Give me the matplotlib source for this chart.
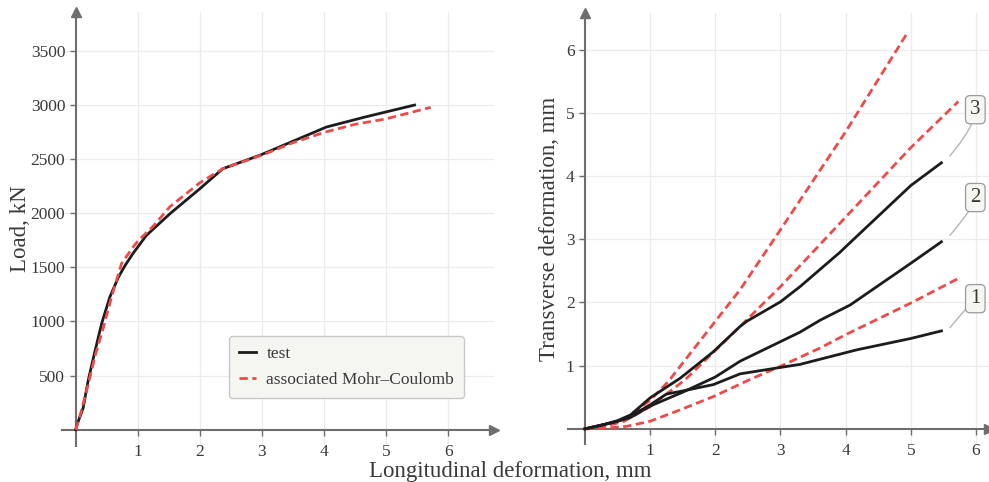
import matplotlib
matplotlib.use("Agg")
import matplotlib.pyplot as plt

plt.rcParams['font.family'] = ['Liberation Serif', 'DejaVu Serif']

# ---------------- data ----------------
# Left: load vs longitudinal deformation
test_x = [0, 0.03, 0.12, 0.2, 0.3, 0.42, 0.55, 0.69, 0.8, 0.92, 1.14, 1.52, 2.0, 2.37, 2.97, 3.23, 4.04, 4.68, 5.46]
test_y = [0, 60, 200, 450, 700, 983, 1225, 1410, 1520, 1625, 1795, 1995, 2225, 2410, 2535, 2598, 2795, 2890, 2998]
mc_x = [0, 0.08, 0.18, 0.31, 0.45, 0.58, 0.74, 0.93, 1.0, 1.25, 1.52, 2.0, 2.37, 3.0, 3.5, 4.0, 4.5, 5.0, 5.72]
mc_y = [0, 150, 369, 676, 952, 1229, 1536, 1690, 1740, 1880, 2060, 2280, 2410, 2535, 2650, 2745, 2820, 2870, 2977]

# Right: transverse deformation vs longitudinal deformation
t1_x = [0, 0.3, 0.5, 0.7, 1.0, 1.25, 1.5, 1.97, 2.38, 3.05, 3.3, 4.17, 5.0, 5.47]
t1_y = [0, 0.07, 0.12, 0.2, 0.38, 0.55, 0.6, 0.7, 0.87, 0.98, 1.02, 1.25, 1.43, 1.55]
t2_x = [0, 0.3, 0.5, 0.7, 1.0, 1.5, 2.0, 2.38, 3.0, 3.3, 3.61, 4.07, 5.0, 5.47]
t2_y = [0, 0.07, 0.12, 0.18, 0.36, 0.58, 0.82, 1.07, 1.38, 1.53, 1.72, 1.96, 2.62, 2.96]
t3_x = [0, 0.3, 0.5, 0.7, 1.0, 1.46, 1.97, 2.38, 2.48, 3.0, 3.3, 3.92, 4.0, 5.0, 5.47]
t3_y = [0, 0.07, 0.13, 0.22, 0.49, 0.8, 1.22, 1.62, 1.70, 2.01, 2.25, 2.8, 2.88, 3.85, 4.21]

m1_x = [0, 0.3, 0.64, 1.0, 1.46, 1.97, 2.53, 3.0, 3.61, 4.0, 5.0, 5.73]
m1_y = [0, 0.01, 0.04, 0.12, 0.3, 0.51, 0.78, 0.99, 1.28, 1.49, 1.99, 2.38]
m2_x = [0, 0.3, 0.6, 1.0, 1.54, 2.38, 3.0, 4.0, 5.0, 5.73]
m2_y = [0, 0.04, 0.12, 0.35, 0.78, 1.62, 2.25, 3.35, 4.45, 5.18]
m3_x = [0, 0.3, 0.6, 1.0, 1.28, 2.0, 2.38, 3.0, 4.0, 4.95]
m3_y = [0, 0.05, 0.15, 0.45, 0.75, 1.7, 2.2, 3.15, 4.7, 6.27]

curve_labels = ["1", "2", "3"]
label_pos = [(5.99, 2.06), (5.99, 3.66), (5.99, 5.05)]
label_tip = [(5.6, 1.6), (5.6, 3.06), (5.6, 4.32)]

left_xticks = [1, 2, 3, 4, 5, 6]
left_yticks = [500, 1000, 1500, 2000, 2500, 3000, 3500]
right_xticks = [1, 2, 3, 4, 5, 6]
right_yticks = [1, 2, 3, 4, 5, 6]

BLACK = '#1c1c1c'
RED = '#ef4a4a'
AXC = '#6e6e6e'
GRID = '#ececec'
TXT = '#3a3a3a'

fig = plt.figure(figsize=(9.89, 4.82), dpi=100)
axL = fig.add_axes([0.0627, 0.0747, 0.4368, 0.9004])
axR = fig.add_axes([0.5743, 0.0788, 0.4257, 0.8942])


def style(ax, xlim, ylim, xt, yt):
    ax.set_xlim(*xlim)
    ax.set_ylim(*ylim)
    ax.set_xticks(xt)
    ax.set_yticks(yt)
    for s in ['top', 'right']:
        ax.spines[s].set_visible(False)
    for s in ['left', 'bottom']:
        ax.spines[s].set_position(('data', 0))
        ax.spines[s].set_color(AXC)
        ax.spines[s].set_linewidth(1.5)
    ax.tick_params(colors=AXC, labelcolor=TXT, labelsize=12.5, length=4, width=1.0, direction='out')
    ax.tick_params(axis='x', pad=6)
    ax.grid(True, color=GRID, lw=0.9)
    ax.set_axisbelow(True)
    ax.plot(1, 0, '>', color=AXC, ms=7, transform=ax.get_yaxis_transform(), clip_on=False)
    ax.plot(0, 1, '^', color=AXC, ms=7, transform=ax.get_xaxis_transform(), clip_on=False)
    ax.set_facecolor('none')


style(axL, (-0.22, 6.74), (-150, 3857), left_xticks, left_yticks)
style(axR, (-0.26, 6.2), (-0.24, 6.58), right_xticks, right_yticks)

dash = (0, (3, 1.6))
axL.plot(test_x, test_y, color=BLACK, lw=2.0, label='test', zorder=3)
axL.plot(mc_x, mc_y, color=RED, lw=2.0, ls=dash, label='associated Mohr–Coulomb', zorder=4)

leg = axL.legend(loc='lower left', bbox_to_anchor=(0.3866, 0.1106), borderaxespad=0,
                 fontsize=12.5, handlelength=1.0, handletextpad=0.6, labelspacing=0.6,
                 borderpad=0.55, fancybox=True, framealpha=1.0)
leg.get_frame().set_facecolor('#f5f6f1')
leg.get_frame().set_edgecolor('#c8c8c8')
for t in leg.get_texts():
    t.set_color(TXT)

for xs, ys in [(m1_x, m1_y), (m2_x, m2_y), (m3_x, m3_y)]:
    axR.plot(xs, ys, color=RED, lw=2.0, ls=dash, zorder=3)
for xs, ys in [(t1_x, t1_y), (t2_x, t2_y), (t3_x, t3_y)]:
    axR.plot(xs, ys, color=BLACK, lw=2.0, zorder=4)

for lab, (tx, ty), (px, py) in zip(curve_labels, label_pos, label_tip):
    axR.annotate(lab, xy=(px, py), xytext=(tx, ty), ha='center', va='center',
                 fontsize=15, color=TXT, annotation_clip=False,
                 bbox=dict(boxstyle='round,pad=0.22', fc='#f6f6f3', ec='#9a9a9a', lw=0.9),
                 arrowprops=dict(arrowstyle='-', color='#b5b5b5', lw=1.0,
                                 shrinkA=0, shrinkB=0,
                                 connectionstyle='angle3,angleA=90,angleB=50'))

axL.set_ylabel('Load, kN', fontsize=16.5, color=TXT, labelpad=0)
axR.set_ylabel('Transverse deformation, mm', fontsize=16.5, color=TXT, labelpad=4)
fig.text(0.516, 0.022, 'Longitudinal deformation, mm', ha='center', va='center', fontsize=16.5, color=TXT)

fig.savefig('out.png', dpi=100)
